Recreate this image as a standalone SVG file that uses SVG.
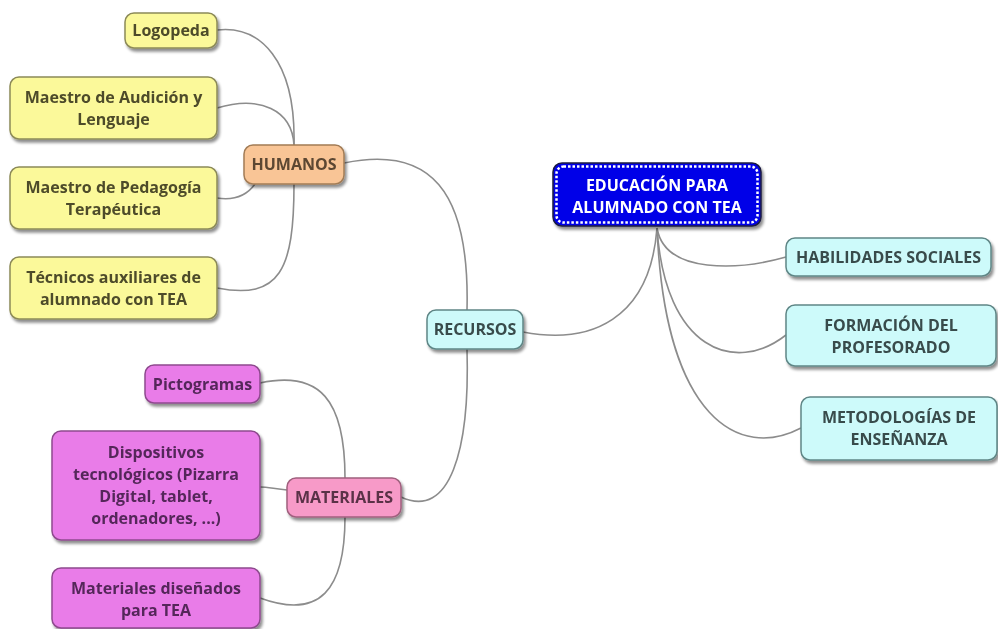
<svg xmlns="http://www.w3.org/2000/svg" width="998" height="629" viewBox="0 0 998 629">
<defs>
<filter id="sh" x="-20%" y="-20%" width="150%" height="160%">
<feGaussianBlur in="SourceAlpha" stdDeviation="1.5"/>
<feOffset dx="2" dy="2.5" result="o"/>
<feComponentTransfer><feFuncA type="linear" slope="0.45"/></feComponentTransfer>
<feMerge><feMergeNode/><feMergeNode in="SourceGraphic"/></feMerge>
</filter>
</defs>
<style>
text{font-family:"Open Sans","Noto Sans","DejaVu Sans",sans-serif;font-weight:bold;font-size:16px;text-anchor:middle}
.c path{fill:none;stroke:#8c8c8c;stroke-width:1.6}
.y rect{fill:#fbf99a;stroke:#8c8a58;stroke-width:1.5}
.y text{fill:#4e4c2a}
.p rect{fill:#f9c596;stroke:#a27c56;stroke-width:1.5}
.p text{fill:#5c4733}
.k rect{fill:#f79ac8;stroke:#a0607e;stroke-width:1.5}
.k text{fill:#5a3046}
.v rect{fill:#e97ce8;stroke:#8e4a8e;stroke-width:1.5}
.v text{fill:#55285a}
.t rect{fill:#cdfafa;stroke:#5f8686;stroke-width:1.5}
.t text{fill:#394b4b}
</style>
<rect width="998" height="629" fill="#ffffff"/>
<g class="c" id="connectors">
<path d="M657,228 C665,275 740,270 786,257"/>
<path d="M657,228 C665,350 735,375 786,335"/>
<path d="M657,228 C665,420 740,460 801,428"/>
<path d="M657,228 C650,320 590,345 523,332"/>
<path d="M344,163 C430,145 470,190 467,310"/>
<path d="M467,349 C470,450 450,520 401,497"/>
<path d="M294,145 C296,60 260,25 217,30"/>
<path d="M294,145 C292,110 260,95 217,108"/>
<path d="M255,184 C245,198 230,200 217,198"/>
<path d="M294,184 C294,270 280,300 217,288"/>
<path d="M345,478 C345,400 320,370 260,383"/>
<path d="M287,490 C275,489 268,487 260,487"/>
<path d="M345,517 C345,590 320,620 260,598"/>
</g>
<g id="root" filter="url(#sh)">
<rect x="553" y="163" width="208" height="63" rx="9" fill="#0000e8" stroke="#1a1a40" stroke-width="1.5"/>
<rect x="556.5" y="166.5" width="201" height="56" rx="7" fill="none" stroke="#ffffff" stroke-width="2.5" stroke-dasharray="2.5 2"/>
<text x="657" y="191" fill="#ffffff">EDUCACIÓN PARA</text>
<text x="657" y="213" fill="#ffffff">ALUMNADO CON TEA</text>
</g>
<g id="habilidades" class="t" filter="url(#sh)">
<rect x="786" y="238" width="205" height="38" rx="9"/>
<text x="888.5" y="263">HABILIDADES SOCIALES</text>
</g>
<g id="formacion" class="t" filter="url(#sh)">
<rect x="786" y="305" width="210" height="61" rx="9"/>
<text x="891" y="331">FORMACIÓN DEL</text>
<text x="891" y="353">PROFESORADO</text>
</g>
<g id="metodologias" class="t" filter="url(#sh)">
<rect x="801" y="397" width="196" height="63" rx="9"/>
<text x="899" y="423">METODOLOGÍAS DE</text>
<text x="899" y="445">ENSEÑANZA</text>
</g>
<g id="recursos" class="t" filter="url(#sh)">
<rect x="427" y="310" width="96" height="39" rx="9"/>
<text x="475" y="335">RECURSOS</text>
</g>
<g id="humanos" class="p" filter="url(#sh)">
<rect x="244" y="145" width="100" height="39" rx="9"/>
<text x="294" y="170">HUMANOS</text>
</g>
<g id="materiales" class="k" filter="url(#sh)">
<rect x="287" y="478" width="114" height="39" rx="9"/>
<text x="344" y="503">MATERIALES</text>
</g>
<g id="logopeda" class="y" filter="url(#sh)">
<rect x="125" y="13" width="92" height="35" rx="9"/>
<text x="171" y="36">Logopeda</text>
</g>
<g id="audicion" class="y" filter="url(#sh)">
<rect x="10" y="77" width="207" height="62" rx="9"/>
<text x="113.5" y="103">Maestro de Audición y</text>
<text x="113.5" y="125">Lenguaje</text>
</g>
<g id="pedagogia" class="y" filter="url(#sh)">
<rect x="10" y="167" width="207" height="62" rx="9"/>
<text x="113.5" y="193">Maestro de Pedagogía</text>
<text x="113.5" y="215">Terapéutica</text>
</g>
<g id="tecnicos" class="y" filter="url(#sh)">
<rect x="10" y="257" width="207" height="62" rx="9"/>
<text x="113.5" y="283">Técnicos auxiliares de</text>
<text x="113.5" y="305">alumnado con TEA</text>
</g>
<g id="pictogramas" class="v" filter="url(#sh)">
<rect x="145" y="365" width="115" height="38" rx="9"/>
<text x="202.5" y="390">Pictogramas</text>
</g>
<g id="dispositivos" class="v" filter="url(#sh)">
<rect x="52" y="431" width="208" height="109" rx="9"/>
<text x="156" y="458">Dispositivos</text>
<text x="156" y="480">tecnológicos (Pizarra</text>
<text x="156" y="502">Digital, tablet,</text>
<text x="156" y="524">ordenadores, ...)</text>
</g>
<g id="materialesdis" class="v" filter="url(#sh)">
<rect x="52" y="568" width="208" height="60" rx="9"/>
<text x="156" y="594">Materiales diseñados</text>
<text x="156" y="616">para TEA</text>
</g>
</svg>
